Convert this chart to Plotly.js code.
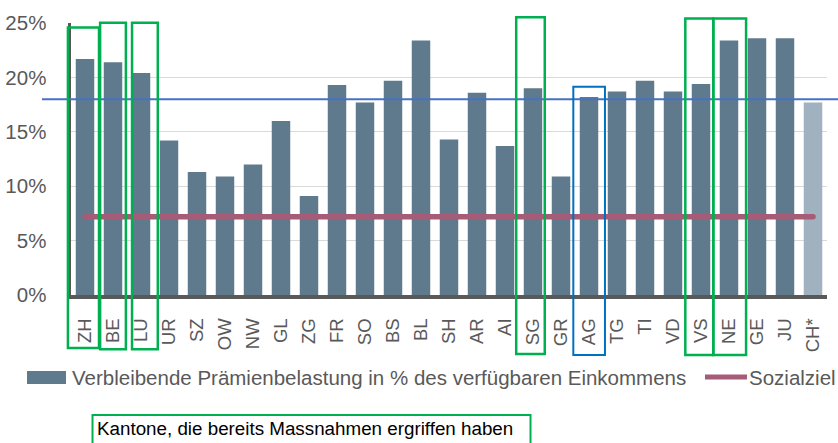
<!DOCTYPE html>
<html>
<head>
<meta charset="utf-8">
<script src="https://cdn.plot.ly/plotly-3.0.1.min.js"></script>
<style>
  html, body { margin: 0; padding: 0; background: #ffffff; }
  #chart { width: 838px; height: 443px; }
  .js-line { stroke-linecap: round; }
</style>
</head>
<body>
<div id="chart"></div>
<script>
// ---- Data ----
const categories = ['ZH','BE','LU','UR','SZ','OW','NW','GL','ZG','FR','SO','BS','BL','SH','AR','AI','SG','GR','AG','TG','TI','VD','VS','NE','GE','JU','CH*'];
const praemienbelastung = [21.7,21.4,20.4,14.2,11.3,10.9,12.0,16.0,9.1,19.3,17.7,19.7,23.4,14.3,18.6,13.7,19.0,10.9,18.2,18.7,19.7,18.7,19.4,23.4,23.6,23.6,17.7];
const sozialzielWert = 7.2;
const referenzWert = 18.0;
const yTickValues = [0, 5, 10, 15, 20, 25];
const yTickLabels = ['0%', '5%', '10%', '15%', '20%', '25%'];
const massnahmenKantone = ['ZH','BE','LU','SG','VS','NE'];
const blauKantone = ['AG'];
const legendBar = 'Verbleibende Prämienbelastung in % des verfügbaren Einkommens';
const legendLine = 'Sozialziel';
const boxText = 'Kantone, die bereits Massnahmen ergriffen haben';

// ---- Layout geometry helpers ----
const FW = 838, FH = 443;
const L = 71, R = 827, T = 23, B = 295;
const W = R - L, H = B - T;
const px = v => (v - L) / W;
const py = v => (B - v) / H;
const N = categories.length;
const catPaper = (i, off) => (i + 0.5 + off) / N;

const barColor = '#5f7a8c';
const chColor = '#a0b1bf';
const pink = '#a65b77';
const green = '#00b050';
const blue = '#0070c0';
const font = 'Liberation Sans, Arial, sans-serif';

const barColors = categories.map(c => c === 'CH*' ? chColor : barColor);

const traces = [
  {
    type: 'bar',
    x: categories,
    y: praemienbelastung,
    name: legendBar,
    marker: { color: barColors },
    showlegend: false,
    hoverinfo: 'x+y'
  },
  {
    type: 'scatter',
    mode: 'lines',
    x: categories,
    y: categories.map(() => sozialzielWert),
    name: legendLine,
    line: { color: pink, width: 5.5 },
    showlegend: false
  }
];

// Highlight boxes (offsets in category units, vertical extent in paper units)
const boxGeom = {
  ZH: [-0.61, 0.50, 0.983, -0.195],
  BE: [-0.46, 0.46, 1.001, -0.199],
  LU: [-0.32, 0.60, 1.001, -0.199],
  SG: [-0.60, 0.42, 1.021, -0.217],
  VS: [-0.56, 0.44, 1.017, -0.221],
  NE: [-0.56, 0.61, 1.017, -0.221],
  AG: [-0.56, 0.57, 0.766, -0.221]
};

const shapes = [];
// reference line at 18%
shapes.push({
  type: 'line', xref: 'paper', yref: 'y',
  x0: px(42), x1: px(840), y0: referenzWert, y1: referenzWert,
  line: { color: '#4472c4', width: 2 }, layer: 'above'
});
massnahmenKantone.concat(blauKantone).forEach(k => {
  const i = categories.indexOf(k);
  const g = boxGeom[k];
  const isBlue = blauKantone.includes(k);
  shapes.push({
    type: 'rect', xref: 'paper', yref: 'paper',
    x0: catPaper(i, g[0]), x1: catPaper(i, g[1]), y0: g[3], y1: g[2],
    line: { color: isBlue ? blue : green, width: isBlue ? 2 : 2.5 },
    fillcolor: 'rgba(0,0,0,0)', layer: 'above'
  });
});
// custom legend swatches
shapes.push({
  type: 'rect', xref: 'paper', yref: 'paper',
  x0: px(27), x1: px(66), y0: py(384), y1: py(371),
  fillcolor: barColor, line: { width: 0 }
});
shapes.push({
  type: 'line', xref: 'paper', yref: 'paper',
  x0: px(705), x1: px(747), y0: py(377), y1: py(377),
  line: { color: pink, width: 5 }
});
// box around note
shapes.push({
  type: 'rect', xref: 'paper', yref: 'paper',
  x0: px(92.5), x1: px(530.5), y0: py(460), y1: py(415),
  fillcolor: 'rgba(0,0,0,0)', line: { color: green, width: 2 }
});

const annotations = [
  {
    xref: 'paper', yref: 'paper', x: px(71), y: py(377),
    xanchor: 'left', yanchor: 'middle', showarrow: false,
    text: legendBar, borderpad: 0,
    font: { family: font, size: 20.5, color: '#595959' }
  },
  {
    xref: 'paper', yref: 'paper', x: px(748), y: py(377),
    xanchor: 'left', yanchor: 'middle', showarrow: false,
    text: legendLine, borderpad: 0,
    font: { family: font, size: 20.5, color: '#595959' }
  },
  {
    xref: 'paper', yref: 'paper', x: px(96), y: py(428),
    xanchor: 'left', yanchor: 'middle', showarrow: false,
    text: boxText, borderpad: 0,
    font: { family: font, size: 18.8, color: '#000000' }
  }
];

const layout = {
  width: FW, height: FH,
  margin: { l: L, r: FW - R, t: T, b: FH - B, pad: 0 },
  paper_bgcolor: '#ffffff',
  plot_bgcolor: '#ffffff',
  showlegend: false,
  bargap: 0.34,
  font: { family: font, color: '#595959' },
  xaxis: {
    type: 'category',
    range: [-0.5, categories.length - 0.5],
    tickangle: -90,
    tickfont: { family: font, size: 18.5, color: '#595959' },
    showline: true, linecolor: '#595959', linewidth: 4,
    showgrid: false, ticks: '', zeroline: false,
    ticklabelstandoff: 12,
    fixedrange: true
  },
  yaxis: {
    range: [0, 25],
    tickvals: yTickValues,
    ticktext: yTickLabels,
    tickfont: { family: font, size: 20.5, color: '#595959' },
    showline: true, linecolor: '#595959', linewidth: 3.5,
    showgrid: true, gridcolor: '#d9d9d9', gridwidth: 1,
    zeroline: false, ticks: '',
    ticklabelstandoff: 17,
    fixedrange: true
  },
  shapes: shapes,
  annotations: annotations
};

Plotly.newPlot('chart', traces, layout, { displayModeBar: false, staticPlot: true });
</script>
</body>
</html>
